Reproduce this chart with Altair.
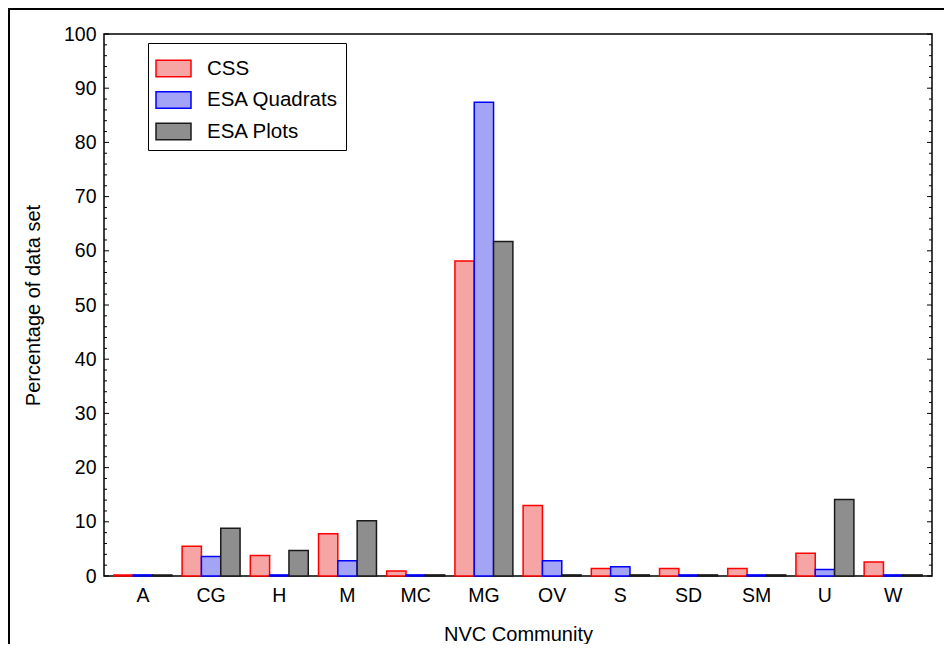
import altair as alt
import pandas as pd

categories = ["A", "CG", "H", "M", "MC", "MG", "OV", "S", "SD", "SM", "U", "W"]
series = ["CSS", "ESA Quadrats", "ESA Plots"]
css = [0.2, 5.5, 3.8, 7.8, 0.9, 58.1, 13.0, 1.4, 1.4, 1.4, 4.2, 2.6]
esa_quadrats = [0.2, 3.6, 0.2, 2.8, 0.2, 87.4, 2.8, 1.7, 0.2, 0.2, 1.2, 0.2]
esa_plots = [0.2, 8.8, 4.7, 10.2, 0.2, 61.7, 0.2, 0.2, 0.2, 0.2, 14.1, 0.2]
major_ticks = list(range(0, 101, 10))
minor_ticks = [v for v in range(0, 101, 2) if v % 10 != 0]

fills = ["#f6a4a4", "#a4a4f6", "#8e8e8e"]
strokes = ["#ff0000", "#0000ff", "#1a1a1a"]

rows = []
for name, vals in zip(series, [css, esa_quadrats, esa_plots]):
    for c, v in zip(categories, vals):
        rows.append({"cat": c, "series": name, "value": v})
df = pd.DataFrame(rows)

W, H = 828, 542
FONT = "Liberation Sans"

y_scale = alt.Scale(domain=[0, 100], nice=False, zero=True)
y_axis = alt.Axis(orient="left", values=major_ticks, ticks=False, domain=False, grid=False,
                  title="Percentage of data set", labelFontSize=19.5, titleFontSize=20,
                  labelPadding=8, titlePadding=20, labelColor="black", titleColor="black",
                  titleFontWeight="normal")

legend = alt.Legend(title=None, orient="none", legendX=44, legendY=9,
                    direction="vertical",
                    symbolType="M-1,-0.475H1V0.475H-1Z", symbolSize=1225,
                    symbolStrokeWidth=1.5, symbolOpacity=1,
                    labelFontSize=20.5, labelOffset=15, labelColor="black",
                    rowPadding=1.5, padding=7,
                    strokeColor="black", fillColor="white")

bars = alt.Chart(df).mark_bar(strokeWidth=1.5).encode(
    x=alt.X("cat:N", sort=categories,
            scale=alt.Scale(paddingInner=0.15, paddingOuter=0.145),
            axis=alt.Axis(title="NVC Community", labelAngle=0, ticks=False, domain=False,
                          labelFontSize=19.5, titleFontSize=20, labelPadding=10,
                          titlePadding=20, labelColor="black", titleColor="black",
                          titleFontWeight="normal", grid=False)),
    xOffset=alt.XOffset("series:N", sort=series, scale=alt.Scale(paddingInner=0, paddingOuter=0)),
    y=alt.Y("value:Q", scale=y_scale, axis=y_axis),
    fill=alt.Fill("series:N", sort=series, scale=alt.Scale(domain=series, range=fills), legend=legend),
    stroke=alt.Stroke("series:N", sort=series, scale=alt.Scale(domain=series, range=strokes), legend=legend),
)

major_df = pd.DataFrame({"v": major_ticks})
minor_df = pd.DataFrame({"v": minor_ticks})


def ticks(data, x0, x1):
    return alt.Chart(data).mark_rule(color="black", strokeWidth=1).encode(
        y=alt.Y("v:Q", scale=y_scale, axis=y_axis),
        x=alt.value(x0), x2=alt.value(x1))


frame_df = pd.DataFrame({"k": [0]})
left_line = alt.Chart(frame_df).mark_rule(color="black", strokeWidth=2).encode(
    x=alt.value(-95), y=alt.value(-26), y2=alt.value(640))
top_line = alt.Chart(frame_df).mark_rule(color="black", strokeWidth=2).encode(
    x=alt.value(-96), x2=alt.value(860), y=alt.value(-25))

chart = alt.layer(
    bars,
    ticks(major_df, 0, 5),
    ticks(minor_df, 0, 3),
    ticks(major_df, W - 5, W),
    ticks(minor_df, W - 3, W),
    left_line,
    top_line,
).properties(
    width=W, height=H,
    autosize=alt.AutoSizeParams(type="none"),
    padding={"left": 96, "top": 26, "right": 12, "bottom": 68},
).configure(font=FONT).configure_view(stroke="black", strokeWidth=1.5)

chart.save("out.html", embed_options={"renderer": "svg", "actions": False})
